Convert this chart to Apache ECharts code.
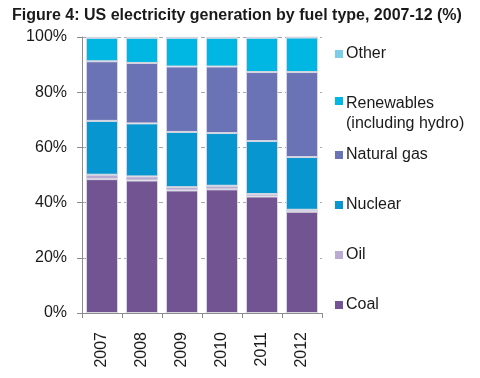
<!DOCTYPE html>
<html><head><meta charset="utf-8">
<script src="https://cdn.jsdelivr.net/npm/echarts@6/dist/echarts.min.js"></script>
<style>html,body{margin:0;padding:0;background:#fff}#c{width:480px;height:378px}</style>
</head><body><div id="c"></div>
<script>
const years = ['2007','2008','2009','2010','2011','2012'];
const coal = [48.5, 48.0, 44.4, 44.8, 42.2, 36.7];
const oil = [1.6, 1.5, 1.2, 1.3, 0.9, 0.7];
const nuclear = [19.5, 19.2, 20.0, 19.1, 19.2, 19.1];
const naturalGas = [21.6, 21.9, 23.7, 24.1, 25.0, 30.8];
const renewables = [8.5, 9.1, 10.4, 10.4, 12.4, 12.5];
const other = [0.3, 0.3, 0.3, 0.3, 0.3, 0.2];
const yTicks = [0, 20, 40, 60, 80, 100];

const seriesDefs = [
  {name:'Coal', data:coal, color:'#725492'},
  {name:'Oil', data:oil, color:'#b8aad0'},
  {name:'Nuclear', data:nuclear, color:'#0796cf'},
  {name:'Natural gas', data:naturalGas, color:'#6a73b6'},
  {name:'Renewables (including hydro)', data:renewables, color:'#00b7e3'},
  {name:'Other', data:other, color:'#7ccde8'}
];
const font = "'Liberation Sans', Arial, sans-serif";
const legendTops = {'Other':44,'Renewables (including hydro)':94,'Natural gas':145,'Nuclear':195,'Oil':245,'Coal':295};

const legends = seriesDefs.map(s => {
  const multi = s.name.startsWith('Renewables');
  return {
    data:[s.name], orient:'vertical', left:335, top:legendTops[s.name], padding:0,
    itemWidth:8, itemHeight: multi ? 40 : 8,
    icon: multi ? 'path://M0,6H8V14H0Z M0,40L0.0001,40L0,40.0001Z' : 'rect',
    itemStyle:{borderWidth:0},
    selectedMode:false,
    formatter: multi ? 'Renewables\n(including hydro)' : '{name}',
    itemGap:4,
    textStyle:{fontFamily:font, fontSize:16, color:'#1a1a1a', lineHeight:20, padding:[0,0,0,-2]}
  };
});

const chart = echarts.init(document.getElementById('c'));
chart.setOption({
  animation:false,
  title:{text:'Figure 4: US electricity generation by fuel type, 2007-12 (%)', left:7, top:3,
    textStyle:{fontFamily:font, fontWeight:'bold', fontSize:16, color:'#1a1a1a'}},
  legend: legends,
  grid:{left:82, right:158, top:37, bottom:65},
  xAxis:{type:'category', data:years,
    axisLine:{lineStyle:{color:'#8c8c8c', width:1}},
    axisTick:{show:true, length:5, lineStyle:{color:'#8c8c8c'}},
    axisLabel:{rotate:90, margin:19, fontFamily:font, fontSize:16, color:'#1a1a1a'}},
  yAxis:{type:'value', min:0, max:100, interval:20,
    axisLine:{show:true, lineStyle:{color:'#8c8c8c'}},
    axisTick:{show:true, length:5, lineStyle:{color:'#8c8c8c'}},
    axisLabel:{margin:15, fontFamily:font, fontSize:16, color:'#1a1a1a',
      formatter: v => yTicks.includes(v) ? v + '%' : ''},
    splitLine:{show:true, lineStyle:{color:'#a8a8a8', type:[4,3], width:1}}},
  series: seriesDefs.map(s => ({
    name:s.name, type:'bar', stack:'all', data:s.data, barCategoryGap:'20%',
    itemStyle:{color:s.color, borderColor:'#d6d6e2', borderWidth:1}
  }))
});
</script></body></html>
